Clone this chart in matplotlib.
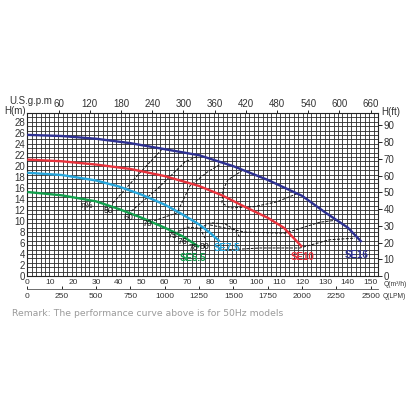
import matplotlib
matplotlib.use('Agg')
import matplotlib.pyplot as plt
import numpy as np

# ---------------- data ----------------
q_se16 = [0, 15, 30, 45, 60, 75, 90, 105, 120, 130, 140, 146]
h_se16 = [25.7, 25.5, 25.0, 24.2, 23.1, 22.0, 20.0, 17.5, 14.6, 11.6, 8.8, 6.2]
q_se10 = [0, 15, 30, 45, 60, 75, 85, 95, 105, 112, 120]
h_se10 = [21.2, 20.9, 20.3, 19.5, 18.2, 16.4, 14.7, 12.6, 10.6, 8.8, 5.3]
q_se75 = [0, 15, 30, 40, 50, 60, 67, 75, 80, 84]
h_se75 = [18.8, 18.4, 17.4, 16.3, 14.8, 13.0, 11.4, 9.4, 7.8, 6.3]
q_se55 = [0, 15, 30, 40, 50, 60, 68, 75]
h_se55 = [15.3, 14.7, 13.6, 12.2, 10.6, 8.8, 7.2, 5.3]

curve_names = ["SE16", "SE10", "SE7.5", "SE5.5"]
curve_label_q = [143.6, 120.0, 87.2, 72.4]
curve_label_h = [3.8, 3.5, 5.1, 3.2]

# efficiency lines
eff50_q = [37.4, 48.3, 59.3]
eff50_h = [13.3, 18.4, 23.3]
eff60_q = [44.0, 57.1, 68.9, 75.4]
eff60_h = [11.3, 16.0, 20.8, 22.0]
eff70_q = [53.6, 65.4, 71.0, 78.5, 84.5]
eff70_h = [9.8, 11.5, 16.4, 18.9, 20.4]
effloop_q = [94.2, 87.6, 85.5, 85.0, 88.5, 98.6, 109.0, 117.8]
effloop_h = [19.3, 17.5, 15.7, 13.3, 12.4, 12.6, 13.5, 15.0]
effmid_q = [79.8, 95.1, 112.5, 127.8, 135.7]
effmid_h = [9.3, 8.0, 7.8, 9.8, 10.2]
efflow_q = [84.2, 101.6, 119.0, 132.0, 143.1]
efflow_h = [4.7, 5.1, 5.1, 6.6, 6.9]
eff75_q = [64.5, 69.7, 75.4, 77.6]
eff75_h = [7.8, 8.9, 8.7, 6.9]
effse75_q = [75.4, 79.8, 86.3, 90.8, 93.0]
effse75_h = [8.7, 9.7, 9.5, 8.4, 6.9]

eff_labels = ["η%", "50", "60", "70", "75", "76", "78", "80"]
eff_label_q = [26.1, 35.3, 44.0, 52.3, 63.2, 68.0, 72.4, 77.2]
eff_label_h = [12.9, 12.0, 10.7, 9.6, 7.4, 6.2, 5.2, 5.3]

q_ticks = list(range(0, 151, 10))
h_ticks = list(range(0, 29, 2))
gpm_ticks = list(range(60, 661, 60))
ft_ticks = list(range(0, 91, 10))
lpm_ticks = list(range(0, 2501, 250))

# ---------------- figure ----------------
W = 416
fig = plt.figure(figsize=(4.16, 4.16), dpi=100)
fig.patch.set_facecolor('white')
L, R, T, B = 27.3, 378.0, 113.0, 276.0
ax = fig.add_axes([L / W, 1 - B / W, (R - L) / W, (B - T) / W])
QMAX = (R - L) / 2.29
HMAX = (B - T) / 5.49
ax.set_xlim(0, QMAX)
ax.set_ylim(0, HMAX)

FONT = 'Liberation Sans'
fs = 6

# grid paper
ax.set_xticks(np.linspace(0, QMAX, 80), minor=True)
ax.set_yticks(np.linspace(0, HMAX, 38), minor=True)
ax.grid(which='minor', color='#2a2a2a', lw=0.6)
ax.grid(which='major', visible=False)
ax.tick_params(which='minor', length=0)
for s in ax.spines.values():
    s.set_linewidth(0.8)
    s.set_color('#222')

ax.set_xticks(q_ticks)
ax.set_yticks(h_ticks)
ax.set_xticklabels([str(v) for v in q_ticks], fontsize=fs, family=FONT, color='#333')
ax.set_yticklabels([str(v) for v in h_ticks], fontsize=fs + 1, family=FONT, color='#333')
ax.tick_params(axis='x', which='major', length=0, pad=2.5)
ax.tick_params(axis='y', which='major', length=0, pad=1.5)

# efficiency lines
for qq, hh in [(eff50_q, eff50_h), (eff60_q, eff60_h), (eff70_q, eff70_h),
               (effloop_q, effloop_h), (effmid_q, effmid_h), (efflow_q, efflow_h),
               (eff75_q, eff75_h), (effse75_q, effse75_h)]:
    ax.plot(qq, hh, color='#111', lw=0.7, ls=(0, (3, 1.5)), zorder=3)

colors = ['#2e3192', '#e8323c', '#27a6dc', '#12a04c']
for (qq, hh), c in zip([(q_se16, h_se16), (q_se10, h_se10), (q_se75, h_se75), (q_se55, h_se55)], colors):
    ax.plot(qq, hh, color=c, lw=1.7, zorder=4, solid_capstyle='butt')

for name, qx, hy, c in zip(curve_names, curve_label_q, curve_label_h, colors):
    ax.text(qx, hy, name, color=c, fontsize=fs + 1, fontweight='bold', family=FONT,
            ha='center', va='center', zorder=5)

for lab, qx, hy in zip(eff_labels, eff_label_q, eff_label_h):
    ax.text(qx, hy, lab, color='#111', fontsize=fs + 0.3, family=FONT,
            ha='center', va='center', zorder=5)

# top axis: US gpm
top = ax.secondary_xaxis('top', functions=(lambda q: q * 4.4029, lambda g: g / 4.4029))
top.set_xticks(gpm_ticks)
top.set_xticklabels([str(v) for v in gpm_ticks], fontsize=fs + 1, family=FONT, color='#333')
top.tick_params(length=2, width=0.6, pad=1)
top.spines['top'].set_visible(False)

# right axis: H(ft)
rgt = ax.secondary_yaxis('right', functions=(lambda m: m * 3.28084, lambda f: f / 3.28084))
rgt.set_yticks(ft_ticks)
rgt.set_yticklabels([str(v) for v in ft_ticks], fontsize=fs + 1, family=FONT, color='#333')
rgt.tick_params(length=3, width=0.6, pad=1)
rgt.spines['right'].set_visible(False)

# LPM axis
lpm = ax.secondary_xaxis(-0.08, functions=(lambda q: q * 1000 / 60, lambda l: l * 60 / 1000))
lpm.set_xticks(lpm_ticks)
lpm.set_xticklabels([str(v) for v in lpm_ticks], fontsize=fs, family=FONT, color='#333')
lpm.tick_params(length=2, width=0.6, pad=3, direction='in')
lpm.spines['bottom'].set_linewidth(0.6)
lpm.spines['bottom'].set_color('#555')

# axis titles
def ptxt(x, y, s, **kw):
    fig.text(x / W, 1 - y / W, s, **kw)

ptxt(31, 101, 'U.S.g.p.m', fontsize=fs + 1, family=FONT, color='#333', ha='center', va='center')
ptxt(15, 111.5, 'H(m)', fontsize=fs + 1, family=FONT, color='#333', ha='center', va='center')
ptxt(391, 112, 'H(ft)', fontsize=fs + 1, family=FONT, color='#333', ha='center', va='center')
ptxt(395, 285, 'Q(m³/h)', fontsize=fs - 1.2, family=FONT, color='#333', ha='center', va='center')
ptxt(394, 296, 'Q(LPM)', fontsize=fs - 1.2, family=FONT, color='#333', ha='center', va='center')
ptxt(12, 313, 'Remark: The performance curve above is for 50Hz models',
     fontsize=6.7, family='DejaVu Sans', color='#9a9a9a', ha='left', va='center')

fig.savefig('out.png', dpi=100, facecolor='white')
